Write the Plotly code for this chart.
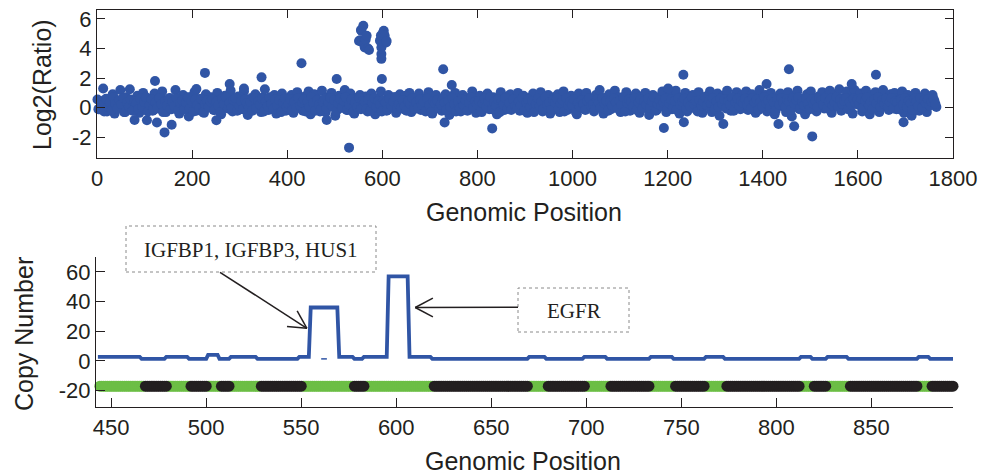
import math
import plotly.graph_objects as go

W, H = 984, 476
INK = "#231f20"
BLUE = "#3055a5"
GREEN = "#6cbe45"
FONT = "Liberation Sans, Arial, sans-serif"
SERIF = "Liberation Serif, Times New Roman, serif"

# ---------------- top panel: log2 ratio per probe ----------------
band_step = 4  # probe spacing of each background series
# probes at positions 1, 5, 9, ...
log2_band = [
    0.55, -0.10, 0.30, 1.30, 0.20, -0.25, 0.60, 0.10, 0.90, -0.40, 0.35, 0.05, 1.20, 0.45, -0.30, 0.70, 0.15, 1.25, -0.15, 0.50,
    0.25, 0.80, -0.35, 0.40, 1.00, 0.00, -0.85, 0.60, 0.20, -0.20, 0.95, 0.30, -0.05, 0.75, 1.10, 0.10, -0.30, 0.50, 0.65, -0.10,
    0.40, 1.20, 0.15, -0.40, 0.55, 0.85, 0.00, 0.30, -0.60, 0.70, 0.20, 1.05, -0.20, 0.45, 0.10, 0.60, -0.35, 0.90, 0.25, 0.05,
    0.70, -0.15, 0.35, 1.00, 0.50, -0.45, 0.20, 0.80, 0.00, 0.60, 1.15, -0.25, 0.40, 0.15, 0.75, -0.10, 0.30, 1.10, 0.55, -0.50,
    0.20, 0.65, -0.05, 0.90, 0.35, 0.10, -0.30, 0.70, 1.25, 0.25, -0.15, 0.50, 0.05, 0.85, -0.40, 0.30, 0.60, 0.95, 0.15, -0.20,
    0.45, 0.00, 0.85, -0.35, 0.30, 1.05, 0.15, 0.60, -0.20, 0.75, 0.25, 1.10, -0.45, 0.40, 0.90, 0.05, 0.55, -0.25, 1.15, 0.35,
    -0.30, 0.70, 0.10, 1.00, 0.45, -0.55, 0.25, 0.80, 0.00, 0.60, 1.20, -0.15, 0.35, 0.95, 0.20, -0.40, 0.65, 0.10, 0.85, 0.30,
    0.05, 0.75, -0.25, 0.50, 0.95, 0.20, -0.45, 0.60, 0.30, 1.10, 0.00, 0.40, -0.20, 0.85, 0.15, 0.55, 0.70, -0.35, 0.25, 0.90,
    0.35, -0.10, 0.80, 0.20, 1.00, -0.30, 0.50, 0.10, 0.70, 0.95, -0.15, 0.40, 0.60, 0.05, 1.05, 0.25, -0.40, 0.55, 0.85, 0.15,
    0.60, -0.20, 0.30, 0.90, 0.10, -0.50, 0.75, 0.45, 1.00, 0.00, 0.35, -0.25, 0.85, 0.20, 0.65, -0.10, 0.50, 1.10, 0.30, -0.35,
    0.15, 0.80, -0.30, 0.55, 0.25, 0.95, -0.10, 0.40, 0.70, 0.05, -0.45, 0.60, 1.05, 0.20, -0.15, 0.75, 0.35, 0.90, 0.00, 0.50,
    0.30, 1.00, -0.20, 0.45, 0.80, 0.10, -0.35, 0.65, 0.20, 0.95, -0.05, 0.50, 0.35, 1.05, -0.25, 0.60, 0.15, 0.85, -0.40, 0.40,
    0.70, 0.05, 0.90, -0.30, 0.35, 1.10, 0.20, -0.15, 0.55, 0.80, 0.00, 0.45, -0.45, 0.95, 0.25, 0.60, -0.10, 1.00, 0.30, 0.15,
    0.50, -0.25, 0.85, 0.35, 1.20, 0.10, -0.40, 0.65, 0.25, 0.90, -0.10, 0.45, 1.15, 0.05, 0.70, -0.30, 0.55, 0.20, 1.05, 0.40,
    -0.20, 0.60, 0.15, 0.95, 0.40, -0.35, 0.75, 0.30, 1.00, 0.05, -0.50, 0.55, 0.85, 0.20, -0.15, 0.70, 0.45, 1.10, 0.10, -0.30,
    0.35, 0.90, -0.10, 0.55, 1.15, 0.20, -0.40, 0.70, 0.30, 1.00, -0.25, 0.50, 0.15, 0.85, -0.05, 0.60, 1.05, 0.25, -0.35, 0.45,
    0.75, 0.10, 1.10, -0.30, 0.50, 0.25, 0.95, -0.55, 0.40, 0.80, 0.05, 1.15, 0.35, -0.20, 0.65, 0.20, 1.05, 0.45, -0.10, 0.85,
    0.30, 1.10, -0.15, 0.60, 0.90, 0.20, -0.35, 0.75, 1.20, 0.40, 0.00, 0.85, -0.25, 0.55, 1.00, 0.15, -0.45, 0.70, 0.35, 0.95,
    0.10, 0.65, -0.30, 1.05, 0.45, -0.60, 0.80, 0.25, 1.15, -0.10, 0.55, 0.30, -0.45, 0.90, 0.20, 1.10, 0.00, 0.60, -0.25, 0.75,
    0.40, 1.05, -0.05, 0.70, 0.25, 1.15, -0.35, 0.55, 0.90, 0.15, 1.25, -0.20, 0.65, 0.35, 1.10, 0.00, 0.80, -0.40, 1.20, 0.45,
    0.20, 0.95, -0.25, 0.60, 1.15, 0.30, -0.45, 0.85, 0.40, 1.05, 0.05, -0.30, 0.70, 1.20, 0.25, 0.55, -0.15, 0.90, 0.35, 1.00,
    -0.10, 0.65, 0.30, 1.10, -0.35, 0.50, 0.85, 0.15, -0.55, 0.75, 1.00, 0.25, -0.20, 0.60, 0.40, 0.95, -0.30, 0.55, 0.20, 0.85,
    0.45, 0.05,
]
# probes at positions 3, 7, 11, ...
log2_band_b = [
    -0.10, 0.45, 0.15, -0.25, 0.60, 0.05, 0.35, -0.15, 0.70, 0.20, -0.05, 0.50, 0.25, 0.65, -0.30, 0.35, 0.10, 0.55, -0.20, 0.40,
    0.30, -0.10, 0.60, 0.05, 0.40, 0.70, -0.25, 0.20, 0.55, -0.15, 0.35, 0.00, 0.65, 0.25, -0.30, 0.45, 0.15, 0.60, -0.05, 0.40,
    0.10, 0.65, -0.20, 0.30, 0.50, -0.10, 0.35, 0.70, 0.00, 0.45, -0.25, 0.55, 0.20, -0.05, 0.60, -0.30, 0.25, 0.50, 0.05, 0.40,
    0.55, -0.15, 0.40, 0.15, -0.30, 0.60, 0.25, 0.70, -0.05, 0.35, 0.00, 0.50, 0.65, -0.20, 0.10, 0.45, -0.10, 0.55, 0.30, 0.05,
    0.35, -0.20, 0.65, 0.00, 0.45, 0.20, 0.60, -0.25, 0.40, 0.10, 0.70, 0.25, -0.10, 0.55, 0.15, 0.50, -0.30, 0.35, 0.60, 0.05,
    0.25, 0.55, -0.15, 0.40, -0.05, 0.65, 0.15, 0.35, 0.55, -0.25, 0.45, 0.05, 0.70, 0.30, -0.20, 0.50, 0.20, -0.10, 0.40, 0.60,
    -0.05, 0.35, 0.65, 0.10, 0.50, -0.25, 0.30, 0.60, 0.00, 0.45, 0.70, -0.15, 0.20, 0.55, -0.30, 0.35, 0.05, 0.65, -0.10, 0.45,
    0.40, -0.10, 0.55, -0.20, 0.30, 0.65, 0.05, 0.45, 0.20, -0.25, 0.50, 0.35, -0.15, 0.60, 0.10, 0.40, 0.70, -0.05, 0.25, 0.00,
    0.50, 0.10, -0.20, 0.45, 0.25, 0.65, -0.10, 0.35, 0.00, 0.55, 0.20, 0.40, -0.25, 0.60, 0.15, -0.30, 0.45, 0.30, 0.50, -0.05,
    0.20, 0.60, 0.35, -0.15, 0.45, 0.05, 0.65, 0.25, -0.25, 0.40, -0.05, 0.55, 0.15, 0.50, -0.20, 0.35, 0.70, 0.00, 0.40, 0.25,
    0.45, -0.20, 0.30, 0.60, 0.05, 0.40, 0.70, -0.10, 0.35, 0.15, 0.55, -0.30, 0.45, 0.20, 0.65, -0.05, 0.30, -0.15, 0.55, 0.10,
    0.00, 0.40, 0.20, 0.65, -0.20, 0.35, 0.55, 0.05, 0.45, -0.30, 0.25, 0.60, 0.10, 0.40, -0.10, 0.70, 0.20, 0.35, -0.15, 0.50,
    0.35, 0.60, -0.05, 0.30, 0.50, -0.25, 0.65, 0.15, 0.40, 0.20, 0.55, -0.30, 0.35, 0.05, 0.50, 0.25, -0.15, 0.45, 0.65, 0.10,
    0.25, -0.10, 0.55, 0.35, 0.00, 0.65, 0.30, 0.45, -0.20, 0.40, 0.15, 0.60, 0.35, -0.05, 0.45, 0.20, 0.70, -0.25, 0.30, 0.55,
    0.40, 0.10, 0.65, -0.15, 0.35, 0.55, -0.05, 0.45, 0.20, 0.60, 0.00, 0.40, 0.70, -0.20, 0.25, 0.50, 0.10, 0.35, 0.60, -0.10,
    0.30, 0.55, 0.00, 0.45, -0.15, 0.65, 0.20, 0.40, 0.60, -0.05, 0.35, 0.10, 0.70, 0.25, 0.45, -0.25, 0.50, 0.15, 0.40, 0.70,
    0.15, 0.50, 0.30, 0.65, -0.10, 0.40, 0.05, 0.60, 0.25, 0.55, -0.05, 0.45, 0.20, 0.70, -0.20, 0.35, 0.60, 0.10, 0.45, 0.30,
    0.60, 0.20, 0.45, -0.05, 0.65, 0.35, 0.55, -0.15, 0.40, 0.10, 0.70, 0.30, 0.50, 0.00, 0.60, 0.35, -0.20, 0.55, 0.20, 0.65,
    0.35, 0.05, 0.55, 0.40, -0.15, 0.60, 0.25, 0.50, 0.70, 0.00, 0.40, 0.15, 0.60, 0.30, -0.10, 0.55, 0.25, 0.45, 0.05, 0.65,
    0.50, 0.20, 0.65, -0.05, 0.40, 0.60, 0.15, 0.35, 0.70, 0.05, 0.55, 0.25, 0.45, 0.65, -0.10, 0.40, 0.20, 0.60, 0.30, 0.55,
    0.25, 0.60, 0.00, 0.45, 0.70, 0.15, 0.40, -0.10, 0.55, 0.30, 0.70, 0.05, 0.50, 0.25, 0.60, 0.10, 0.40, 0.65, -0.05, 0.45,
    0.35, -0.10, 0.55, 0.20, 0.65, 0.05, 0.45, 0.30, -0.15, 0.60, 0.40, 0.10, 0.65, 0.00, 0.50, 0.30, 0.55, 0.15, 0.40, 0.60,
    0.25,
]
band_pos = [1 + band_step * i for i in range(len(log2_band))]
band_pos_b = [3 + band_step * i for i in range(len(log2_band_b))]

# isolated probes away from the main band
outlier_pos = [79, 122, 126, 142, 157, 209, 227, 251, 279, 309, 346, 430, 483, 504, 530,
               728, 731, 746, 831, 1192, 1201, 1233, 1234, 1317, 1408, 1433, 1455, 1466,
               1504, 1587, 1638, 1696]
outlier_val = [-0.83, 1.80, -1.00, -1.67, -1.15, 1.26, 2.35, -0.85, 1.60, 1.30, 2.05, 3.00, -0.83, 1.94, -2.70,
               2.60, -1.00, 1.53, -1.40, -1.37, 1.30, 2.23, -0.99, -1.10, 1.60, -1.10, 2.60, -1.26,
               -1.94, 1.60, 2.23, -0.99]

# amplified probes (IGFBP1/IGFBP3/HUS1 and EGFR loci)
amp_pos = [551, 553, 555, 556, 558, 560, 562, 563, 565, 567, 570, 572,
           595, 597, 598, 598, 598, 599, 602, 603, 605, 608, 609]
amp_val = [4.50, 4.55, 5.25, 5.20, 4.40, 5.54, 4.30, 4.07, 4.60, 4.86, 4.00, 3.90,
           4.53, 4.87, 4.07, 3.63, 3.30, 1.94, 5.09, 5.20, 4.86, 4.41, 4.50]

# ---------------- bottom panel: segmented copy number ----------------
cn_start = [443, 466, 479, 491, 501, 507, 513, 527, 549, 555, 570, 578, 583, 596, 607,
            619, 670, 679, 699, 711, 734, 746, 763, 773, 813, 819, 827, 838, 875, 881]
cn_end = [465, 478, 490, 500, 506, 512, 526, 548, 554, 569, 577, 582, 595, 606, 618,
          669, 678, 698, 710, 733, 745, 762, 772, 812, 818, 826, 837, 874, 880, 893]
cn_level = [2.7, 1.4, 2.7, 1.4, 4.1, 1.4, 2.7, 1.4, 2.7, 36, 2.7, 1.4, 2.7, 57, 2.7,
            1.4, 2.7, 1.4, 2.7, 1.4, 2.7, 1.4, 2.7, 1.4, 2.7, 1.4, 2.7, 1.4, 2.7, 1.4]
cn_baseline_pos = [560.5, 563.5]
cn_baseline_val = [1.4, 1.4]

# probe track: every probe drawn at a fixed offset, losses in black
track_level = -17
probe_first, probe_last = 444, 893
loss_start = [468, 492, 508, 529, 578, 620, 680, 713, 747, 774, 820, 839, 882]
loss_end = [479, 500, 512, 550, 583, 669, 699, 733, 762, 812, 826, 874, 893]

# ---------------- layout geometry (pixels) ----------------
TOP_X = (97, 953)
TOP_Y = (10, 158)
BOT_X = (96, 953)
BOT_Y = (257, 407)
TOP_XR, TOP_YR = [0, 1800], [-3.4, 6.6]
BOT_XR, BOT_YR = [442, 893], [-31, 70]
top_yticks = [-2, 0, 2, 4, 6]
bot_yticks = [-20, 0, 20, 40, 60]


def px_x(p):
    return p / W


def px_y(p):
    return 1 - p / H


def bot_data_to_px(x, y):
    fx = (x - BOT_XR[0]) / (BOT_XR[1] - BOT_XR[0])
    fy = (y - BOT_YR[0]) / (BOT_YR[1] - BOT_YR[0])
    return BOT_X[0] + fx * (BOT_X[1] - BOT_X[0]), BOT_Y[1] - fy * (BOT_Y[1] - BOT_Y[0])


fig = go.Figure()

fig.add_trace(go.Scatter(
    x=band_pos + band_pos_b + outlier_pos + amp_pos,
    y=log2_band + log2_band_b + outlier_val + amp_val,
    mode="markers", marker=dict(size=10, color=BLUE, line=dict(width=0)),
    cliponaxis=False, xaxis="x", yaxis="y", showlegend=False))

# probe track (green = retained, black = lost)
loss_set = set()
for s, e in zip(loss_start, loss_end):
    loss_set.update(range(s, e + 1))
probes = list(range(probe_first, probe_last + 1))
kept = [p for p in probes if p not in loss_set]
lost = [p for p in probes if p in loss_set]
fig.add_trace(go.Scatter(
    x=kept, y=[track_level] * len(kept), mode="markers",
    marker=dict(size=11, color=GREEN, line=dict(width=0)),
    cliponaxis=False, xaxis="x2", yaxis="y2", showlegend=False))
fig.add_trace(go.Scatter(
    x=lost, y=[track_level] * len(lost), mode="markers",
    marker=dict(size=11, color=INK, line=dict(width=0)),
    cliponaxis=False, xaxis="x2", yaxis="y2", showlegend=False))

# copy-number segments joined into one step line
cn_x, cn_y = [], []
for s, e, v in zip(cn_start, cn_end, cn_level):
    cn_x += [s, e]
    cn_y += [v, v]
fig.add_trace(go.Scatter(
    x=cn_x, y=cn_y, mode="lines", line=dict(color=BLUE, width=3.8),
    xaxis="x2", yaxis="y2", showlegend=False))
fig.add_trace(go.Scatter(
    x=cn_baseline_pos, y=cn_baseline_val, mode="lines", line=dict(color=BLUE, width=1.5),
    xaxis="x2", yaxis="y2", showlegend=False))

axis_common = dict(showgrid=False, zeroline=False, showline=True, linecolor=INK, linewidth=1.3,
                   ticks="inside", tickcolor=INK, tickwidth=1.2,
                   tickfont=dict(family=FONT, size=22, color=INK))

fig.update_layout(
    width=W, height=H, autosize=False, margin=dict(l=0, r=0, t=0, b=0, autoexpand=False),
    paper_bgcolor="white", plot_bgcolor="white", showlegend=False,
    xaxis=dict(axis_common, domain=[px_x(TOP_X[0]), px_x(TOP_X[1])], range=TOP_XR,
               tickvals=list(range(0, 1801, 200)), ticklen=8, mirror="ticks", anchor="y"),
    yaxis=dict(axis_common, domain=[px_y(TOP_Y[1]), px_y(TOP_Y[0])], range=TOP_YR,
               tickvals=top_yticks, ticktext=[str(v) for v in top_yticks],
               ticklen=8, mirror="ticks", anchor="x"),
    xaxis2=dict(axis_common, domain=[px_x(BOT_X[0]), px_x(BOT_X[1])], range=BOT_XR,
                tickvals=list(range(450, 851, 50)), ticklen=9, anchor="y2"),
    yaxis2=dict(axis_common, domain=[px_y(BOT_Y[1]), px_y(BOT_Y[0])], range=BOT_YR,
                tickvals=bot_yticks, ticktext=[str(v) for v in bot_yticks],
                ticklen=9, anchor="x2"),
)

# axis titles
title_font = dict(family=FONT, size=25, color=INK)
for text, x, y, ang in [("Log2(Ratio)", 42, 85, -90), ("Copy Number", 24, 334, -90),
                        ("Genomic Position", 524, 212, 0), ("Genomic Position", 523, 461, 0)]:
    fig.add_annotation(text=text, x=px_x(x), y=px_y(y), xref="paper", yref="paper",
                       showarrow=False, textangle=ang, font=title_font,
                       xanchor="center", yanchor="middle")

# labelled callouts: dotted boxes with open-headed arrows to the amplified segments
callouts = [
    dict(text="IGFBP1, IGFBP3, HUS1", box=(126, 226, 376, 272), tail=(220, 272.3), tip=(553, 22)),
    dict(text="EGFR", box=(518, 288, 629, 332), tail=(518, 307.3), tip=(610, 36)),
]
head_len, head_ang = 20, math.radians(28)
for c in callouts:
    x0, y0, x1, y1 = c["box"]
    fig.add_shape(type="rect", xref="paper", yref="paper",
                  x0=px_x(x0), x1=px_x(x1), y0=px_y(y1), y1=px_y(y0),
                  line=dict(color="#8a8a8a", width=1, dash="dot"), fillcolor="white", layer="above")
    fig.add_annotation(text=c["text"], x=px_x((x0 + x1) / 2), y=px_y((y0 + y1) / 2 + 1),
                       xref="paper", yref="paper", showarrow=False,
                       font=dict(family=SERIF, size=21, color=INK),
                       xanchor="center", yanchor="middle")
    tx, ty = bot_data_to_px(*c["tip"])
    sx, sy = c["tail"]
    fig.add_shape(type="line", xref="paper", yref="paper",
                  x0=px_x(sx), y0=px_y(sy), x1=px_x(tx), y1=px_y(ty),
                  line=dict(color=INK, width=1.5), layer="above")
    back = math.atan2(sy - ty, sx - tx)
    for sgn in (-1, 1):
        a = back + sgn * head_ang
        fig.add_shape(type="line", xref="paper", yref="paper",
                      x0=px_x(tx), y0=px_y(ty),
                      x1=px_x(tx + head_len * math.cos(a)), y1=px_y(ty + head_len * math.sin(a)),
                      line=dict(color=INK, width=1.5), layer="above")

# keep the page flush with the figure so it renders at its full fixed size
page_fix = """
document.documentElement.style.margin = '0';
document.documentElement.style.overflow = 'hidden';
document.body.style.margin = '0';
document.body.style.overflow = 'hidden';
Plotly.relayout(document.getElementById('{plot_id}'), {width: %d, height: %d});
""" % (W, H)

fig.write_html("out.html", config={"responsive": False}, post_script=page_fix)
